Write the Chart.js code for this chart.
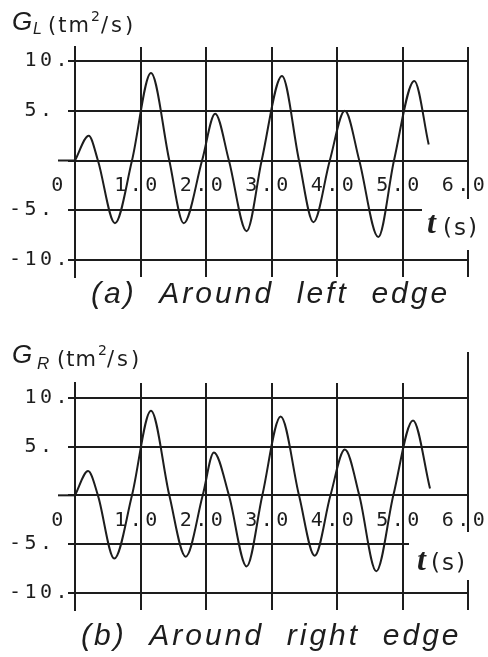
<!DOCTYPE html>
<html>
<head>
<meta charset="utf-8">
<script src="https://cdn.jsdelivr.net/npm/chart.js@4.4.1/dist/chart.umd.min.js"></script>
<style>
  body { margin: 0; background: #fff; }
  canvas { display: block; }
</style>
</head>
<body>
<canvas id="edge-left" width="488" height="328"></canvas>
<canvas id="edge-right" width="488" height="329"></canvas>
<script>
// G around the left edge, t in seconds
const tLeft = [0, 0.21, 0.35, 0.61, 0.87, 1.16, 1.44, 1.66, 1.94, 2.14, 2.35, 2.62, 2.85, 3.16, 3.42, 3.64, 3.89, 4.12, 4.34, 4.63, 4.87, 5.18, 5.40];
const gLeft = [0, 2.5, 0, -6.3, 0, 8.8, 0, -6.3, 0, 4.7, 0, -7.1, 0, 8.5, 0, -6.2, 0, 5.0, 0, -7.7, 0, 8.0, 1.6];

// G around the right edge
const tRight = [0, 0.20, 0.35, 0.60, 0.87, 1.16, 1.44, 1.69, 1.95, 2.12, 2.35, 2.62, 2.86, 3.14, 3.42, 3.66, 3.90, 4.12, 4.34, 4.60, 4.86, 5.16, 5.42];
const gRight = [0, 2.5, 0, -6.5, 0, 8.7, 0, -6.3, 0, 4.4, 0, -7.3, 0, 8.1, 0, -6.2, 0, 4.7, 0, -7.8, 0, 7.7, 0.7];

const yTicks = [-10, -5, 0, 5, 10];
const yTickLabels = ['-10.', '-5.', '', ' 5.', ' 10.'];
const xTicks = [0, 1, 2, 3, 4, 5, 6];
const xTickLabels = ['0', '1.0', '2.0', '3.0', '4.0', '5.0', '6.0'];

const ink = '#1d1d1d';
const mono = '"DejaVu Sans Mono", monospace';

// texts with mixed fonts (subscripts, superscripts)
function drawRuns(ctx, runs) {
  runs.forEach(r => {
    ctx.font = r.font;
    ctx.letterSpacing = r.spacing || '0px';
    ctx.fillText(r.text, r.x, r.y);
  });
}

const paperPlugin = {
  id: 'paper',
  beforeDraw(chart) {
    chart.ctx.letterSpacing = '3.5px';
  },
  afterDraw(chart, args, opts) {
    const ctx = chart.ctx;
    const area = chart.chartArea;
    const xs = chart.scales.x;
    const ys = chart.scales.y;
    const y0 = ys.getPixelForValue(0);
    ctx.save();
    ctx.letterSpacing = '0px';
    ctx.strokeStyle = ink;
    ctx.lineWidth = 2;

    // zero line reaches further left than the other ticks
    ctx.beginPath();
    ctx.moveTo(58, y0);
    ctx.lineTo(area.left, y0);
    ctx.stroke();

    if (opts.rightTop != null) {
      const xr = Math.round(xs.getPixelForValue(6));
      ctx.beginPath();
      ctx.moveTo(xr, opts.rightTop);
      ctx.lineTo(xr, area.top);
      ctx.stroke();
    }

    // gap in the frame for the time label
    const b = opts.unitBox;
    ctx.fillStyle = '#fff';
    ctx.fillRect(b[0], b[1], b[2], b[3]);

    ctx.fillStyle = ink;
    ctx.textBaseline = 'middle';
    ctx.textAlign = 'center';
    ctx.font = '20px ' + mono;
    ctx.letterSpacing = '3.5px';
    xTicks.forEach((v, i) => {
      const px = xs.getPixelForValue(v) + (v === 0 ? -16 : -3);
      ctx.fillText(xTickLabels[i], px, y0 + 25);
    });

    ctx.textAlign = 'left';
    ctx.textBaseline = 'alphabetic';
    drawRuns(ctx, opts.title);
    drawRuns(ctx, opts.unit);

    ctx.font = 'italic 30px "Liberation Sans", sans-serif';
    ctx.letterSpacing = '3px';
    ctx.fillText(opts.caption, opts.captionX, opts.captionY);
    ctx.restore();
  }
};

function makeChart(id, times, values, yMin, yMax, pad, paper) {
  const points = times.map((t, i) => ({ x: t, y: values[i] }));
  return new Chart(document.getElementById(id), {
    type: 'line',
    data: {
      datasets: [{
        data: points,
        borderColor: ink,
        borderWidth: 2,
        pointRadius: 0,
        fill: false,
        cubicInterpolationMode: 'monotone'
      }]
    },
    options: {
      responsive: false,
      animation: false,
      layout: { padding: pad },
      plugins: {
        legend: { display: false },
        tooltip: { enabled: false },
        paper: paper
      },
      scales: {
        x: {
          type: 'linear',
          min: 0,
          max: 6,
          ticks: { display: false, stepSize: 1 },
          grid: { color: ink, lineWidth: 2, drawTicks: false },
          border: { display: false },
          afterFit: s => { s.height = 0; }
        },
        y: {
          type: 'linear',
          min: yMin,
          max: yMax,
          afterBuildTicks: s => { s.ticks = yTicks.map(v => ({ value: v })); },
          afterFit: s => { s.width = 66; },
          ticks: {
            crossAlign: 'far',
            color: ink,
            font: { family: 'DejaVu Sans Mono', size: 20 },
            callback: v => yTickLabels[yTicks.indexOf(v)]
          },
          grid: { color: ink, lineWidth: 2, tickLength: 7, tickColor: ink },
          border: { color: ink, width: 2 }
        }
      }
    },
    plugins: [paperPlugin]
  });
}

makeChart('edge-left', tLeft, gLeft, -11.71, 11.41,
  { left: 9, right: 20, top: 47, bottom: 51 },
  {
    unitBox: [422, 199, 60, 51],
    title: [
      { text: 'G', x: 12, y: 30, font: 'italic 26px "Liberation Sans"' },
      { text: 'L', x: 33, y: 34, font: 'italic 16px "Liberation Sans"' },
      { text: '(tm', x: 48, y: 32, font: '21px "DejaVu Sans"', spacing: '2px' },
      { text: '2', x: 91, y: 21, font: '14px "DejaVu Sans"' },
      { text: '/s)', x: 101, y: 32, font: '21px "DejaVu Sans"', spacing: '3px' }
    ],
    unit: [
      { text: 't', x: 427, y: 233, font: 'italic bold 32px "Liberation Serif"' },
      { text: '(s)', x: 443, y: 235, font: '23px "DejaVu Sans"', spacing: '2px' }
    ],
    caption: '(a)  Around  left  edge',
    captionX: 91,
    captionY: 303
  });

makeChart('edge-right', tRight, gRight, -11.78, 11.54,
  { left: 9, right: 20, top: 55, bottom: 47 },
  {
    rightTop: 24,
    unitBox: [409, 204, 73, 48],
    title: [
      { text: 'G', x: 12, y: 35, font: 'italic 26px "Liberation Sans"' },
      { text: 'R', x: 37, y: 41, font: 'italic 17px "Liberation Sans"' },
      { text: '(tm', x: 57, y: 38, font: '21px "DejaVu Sans"', spacing: '1px' },
      { text: '2', x: 98, y: 27, font: '14px "DejaVu Sans"' },
      { text: '/s)', x: 107, y: 38, font: '21px "DejaVu Sans"', spacing: '3px' }
    ],
    unit: [
      { text: 't', x: 417, y: 242, font: 'italic bold 32px "Liberation Serif"' },
      { text: '(s)', x: 431, y: 242, font: '23px "DejaVu Sans"', spacing: '2px' }
    ],
    caption: '(b)  Around  right  edge',
    captionX: 81,
    captionY: 317
  });
</script>
</body>
</html>
